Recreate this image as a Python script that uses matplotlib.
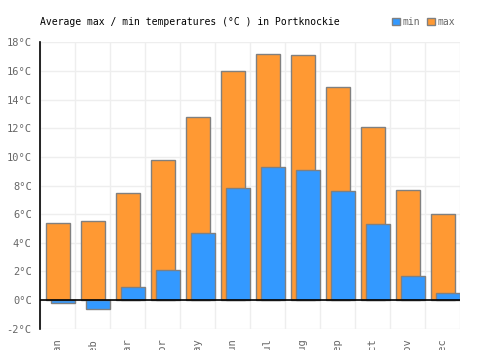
import matplotlib
matplotlib.use("Agg")
import matplotlib.pyplot as plt
from matplotlib.patches import Patch
import numpy as np

# monthly average temperatures for Portknockie
months = ["Jan", "Feb", "Mar", "Apr", "May", "Jun",
          "Jul", "Aug", "Sep", "Oct", "Nov", "Dec"]
temp_max = [5.4, 5.5, 7.5, 9.8, 12.8, 16.0, 17.2, 17.1, 14.9, 12.1, 7.7, 6.0]
temp_min = [-0.2, -0.6, 0.9, 2.1, 4.7, 7.8, 9.3, 9.1, 7.6, 5.3, 1.7, 0.5]
y_ticks = [-2, 0, 2, 4, 6, 8, 10, 12, 14, 16, 18]

orange = "#ff9933"
blue = "#3399ff"
edge = "#808080"

plt.rcParams["font.family"] = "DejaVu Sans Mono"

fig = plt.figure(figsize=(5, 3.5), dpi=100)
ax = fig.add_axes([0.08, 0.061, 0.84, 0.818])

x = np.arange(len(months))
w = 0.686
ax.bar(x + 0.014, temp_max, width=w, color=orange, edgecolor=edge,
       linewidth=1, zorder=2)
ax.bar(x + 0.166, temp_min, width=w, color=blue, edgecolor=edge,
       linewidth=1, zorder=3)
ax.axhline(0, color="black", linewidth=1.2, zorder=4)

ax.set_xlim(-0.5, 11.5)
ax.set_ylim(-2, 18)
ax.set_yticks(y_ticks)
ax.set_yticklabels([f"{t}°C" for t in y_ticks])
ax.set_xticks(x)
ax.set_xticklabels(months, rotation=90)
ax.set_xticks(np.arange(-0.5, 12, 1), minor=True)

ax.grid(False)
ax.grid(True, which="minor", axis="x", color="#eeeeee", linewidth=1, zorder=0)
ax.grid(True, which="major", axis="y", color="#eeeeee", linewidth=1, zorder=0)
ax.set_axisbelow(True)

for s in ["top", "right", "bottom"]:
    ax.spines[s].set_visible(False)
ax.spines["left"].set_color("black")
ax.spines["left"].set_linewidth(1.2)
ax.spines["left"].set_zorder(5)

ax.tick_params(axis="both", which="both", length=0, labelsize=7.5,
               colors="#666666")
ax.tick_params(axis="y", pad=6)
ax.tick_params(axis="x", pad=7)

fig.text(0.08, 0.937, "Average max / min temperatures (°C ) in Portknockie",
         fontsize=7, color="black", va="center")

handles = [Patch(facecolor=blue, edgecolor=edge, label="min"),
           Patch(facecolor=orange, edgecolor=edge, label="max")]
fig.legend(handles=handles, loc="center left", bbox_to_anchor=(0.775, 0.937),
           ncol=2, frameon=False, fontsize=7, handlelength=0.8,
           handleheight=0.8, handletextpad=0.2, columnspacing=0.8,
           labelcolor="#666666", borderpad=0)

fig.savefig("out.png", dpi=100)
